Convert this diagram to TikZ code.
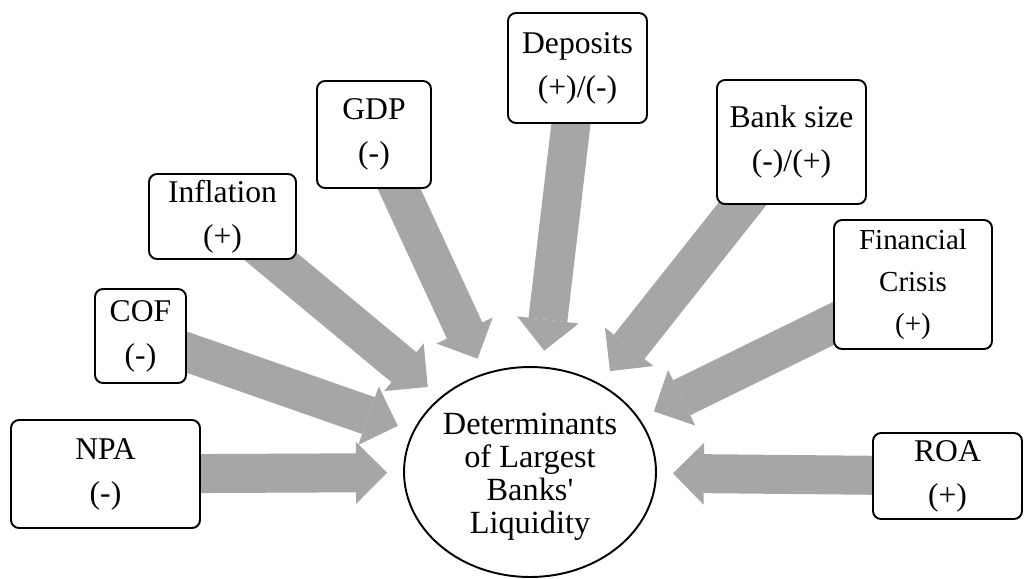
\documentclass[tikz,border=0pt]{standalone}
\usepackage{fontspec}
\setmainfont{Liberation Serif}
\usepackage{tikz}
\usetikzlibrary{shapes.geometric}
\usetikzlibrary{arrows.meta}
\usetikzlibrary{backgrounds}
\definecolor{arrowgray}{RGB}{166,166,166}

\begin{document}
\begin{tikzpicture}[x=0.02cm, y=-0.02cm,
    factor/.style={draw, line width=1.1pt, rounded corners=0.16cm, fill=white, align=center,
                   inner sep=0pt, font=\fontsize{18}{25}\selectfont},
    push/.style={draw=arrowgray, line width=0.78cm,
                 -{Triangle[width=1.24cm, length=0.62cm, line width=0pt]}, shorten >=0.32cm}]
  \useasboundingbox (0, 0) rectangle (1024, 578);

  \node[draw, ellipse, line width=1.1pt, inner sep=0pt, minimum width=5.04cm, minimum height=4.2cm,
        align=center, font=\fontsize{18.4}{18.8}\selectfont] (det) at (530, 472)
        {\rule{0pt}{0.63cm}Determinants\\of Largest\\Banks\textquotesingle\\Liquidity};

  \node[factor, minimum width=3.78cm, minimum height=2.16cm] (npa) at (105.5, 474) {NPA\\(-)};
  \node[factor, minimum width=1.82cm, minimum height=1.88cm] (cof) at (140.5, 336) {COF\\(-)};
  \node[factor, minimum width=2.94cm, minimum height=1.70cm] (infl) at (222.5, 216.5) {Inflation\\(+)};
  \node[factor, minimum width=2.28cm, minimum height=2.14cm] (gdp) at (374, 134.5) {GDP\\(-)};
  \node[factor, minimum width=2.78cm, minimum height=2.20cm] (dep) at (577.5, 68) {Deposits\\(+)/(-)};
  \node[factor, minimum width=2.98cm, minimum height=2.48cm] (size) at (791.5, 142) {Bank size\\(-)/(+)};
  \node[factor, minimum width=3.16cm, minimum height=2.58cm, font=\fontsize{16.5}{23.8}\selectfont]
        (crisis) at (913, 284.5) {Financial\\Crisis\\(+)};
  \node[factor, minimum width=2.98cm, minimum height=1.72cm] (roa) at (947.5, 476) {ROA\\(+)};

  \begin{scope}[on background layer]
    \draw[push] (npa.center) -- (det);
    \draw[push] (cof.center) -- (det);
    \draw[push] (infl.center) -- (det);
    \draw[push] (gdp.center) -- (det);
    \draw[push] (dep.center) -- (det);
    \draw[push] (size.center) -- (det);
    \draw[push] (crisis.center) -- (det);
    \draw[push] (roa.center) -- (det);
  \end{scope}
\end{tikzpicture}
\end{document}
